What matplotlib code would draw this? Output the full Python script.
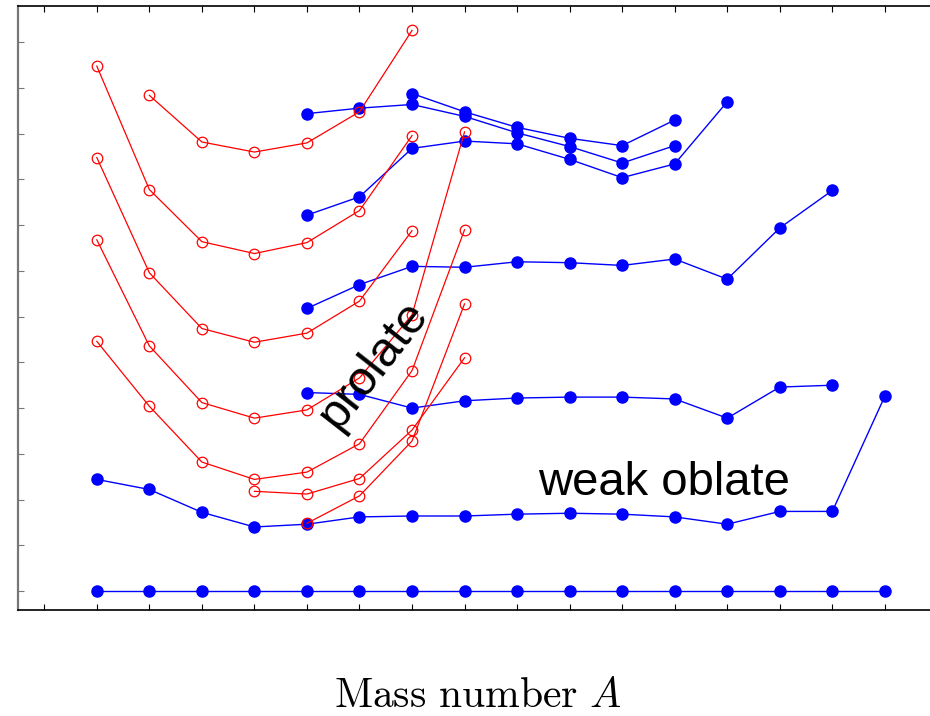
import numpy as np
import matplotlib
matplotlib.use('Agg')
import matplotlib.pyplot as plt

plt.rcParams['mathtext.fontset'] = 'cm'

# position along the mass axis (one step per nucleus)
A = np.arange(1, 17)

# blue: oblate-like bands (filled dots), values in MeV
ground = [0.0] * 16
blue_1 = [1.22, 1.11, 0.86, 0.70, 0.73, 0.81, 0.82, 0.82, 0.84, 0.85, 0.84, 0.81, 0.73, 0.87, 0.87, 2.13]
blue_2 = [2.17, 2.15, 2.00, 2.08, 2.11, 2.12, 2.12, 2.10, 1.89, 2.23, 2.25]        # A[4:15]
blue_3 = [3.09, 3.35, 3.55, 3.54, 3.60, 3.59, 3.56, 3.63, 3.41, 3.97, 4.38]        # A[4:15]
blue_4 = [4.11, 4.31, 4.84, 4.92, 4.89, 4.72, 4.52, 4.67, 5.35]                    # A[4:13]
blue_5 = [5.22, 5.28, 5.32, 5.19, 5.01, 4.86, 4.68, 4.87]                          # A[4:12]
blue_6 = [5.44, 5.24, 5.07, 4.95, 4.87, 5.15]                                      # A[6:12]

# red: prolate bands (open circles)
red_1 = [5.74, 4.39, 3.82, 3.69, 3.81, 4.16, 4.98]          # A[0:7]
red_2 = [4.74, 3.48, 2.87, 2.72, 2.82, 3.17, 3.94]          # A[0:7]
red_3 = [3.84, 2.68, 2.06, 1.89, 1.98, 2.33, 3.02, 5.02]    # A[0:8]
red_4 = [2.73, 2.02, 1.41, 1.22, 1.30, 1.61, 2.41, 3.95]    # A[0:8]
red_5 = [1.09, 1.06, 1.23, 1.76, 2.55]                      # A[3:8]
red_6 = [0.74, 1.04, 1.64, 3.14]                            # A[4:8]
red_7 = [5.42, 4.91, 4.80, 4.90, 5.24, 6.13]                # A[1:7]

blue_sets = [(A, ground), (A, blue_1), (A[4:15], blue_2), (A[4:15], blue_3),
             (A[4:13], blue_4), (A[4:12], blue_5), (A[6:12], blue_6)]
red_sets = [(A[0:7], red_1), (A[0:7], red_2), (A[0:8], red_3), (A[0:8], red_4),
            (A[3:8], red_5), (A[4:8], red_6), (A[1:7], red_7)]

fig = plt.figure(figsize=(9.3, 7.16), dpi=100)
ax = fig.add_axes([18 / 930, 106 / 716, 922 / 930, 604 / 716])

for xs, ys in blue_sets:
    ax.plot(xs, ys, color='#0000ff', lw=1.0, marker='o', ms=8,
            mfc='#0000ff', mec='#0000ff', zorder=2)
for xs, ys in red_sets:
    ax.plot(xs, ys, color='#ff0000', lw=0.9, marker='o', ms=7.6,
            mfc='none', mec='#ff0000', mew=0.9, zorder=3)

ax.text(6.28, 2.48, 'prolate', rotation=52, ha='center', va='center',
        rotation_mode='anchor', fontsize=35, family='Liberation Sans')
ax.text(11.79, 1.05, 'weak oblate', ha='center', va='baseline',
        fontsize=34, family='Liberation Sans')

ax.set_xlim(-0.5, 17.05)
ax.set_ylim(-0.208, 6.397)
ax.set_xticks(np.arange(0, 18))
ax.set_yticks(np.arange(0, 6.01, 0.5))
ax.tick_params(direction='in', length=4, width=0.8, labelbottom=False,
               labelleft=False, top=True, right=True)
ax.tick_params(axis='y', colors='#777777')
ax.spines['left'].set_color('#777777')
ax.spines['left'].set_linewidth(1.6)
for side in ['top', 'bottom']:
    ax.spines[side].set_linewidth(1.2)

fig.text(478 / 930, 1 - 695 / 716, r'$\mathrm{Mass\ number}\ A$',
         ha='center', va='center', fontsize=30)

plt.savefig('out.png', dpi=100)
